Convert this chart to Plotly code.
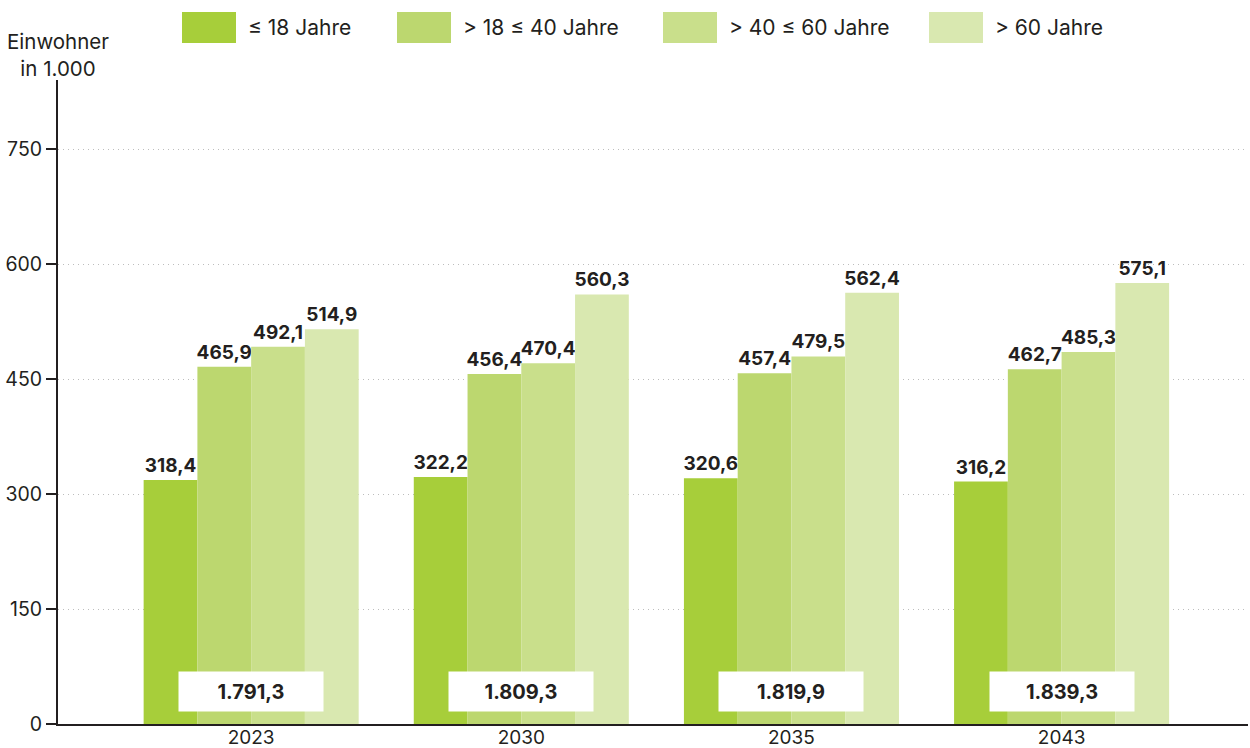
import plotly.graph_objects as go

years = ["2023", "2030", "2035", "2043"]
series_names = ["≤ 18 Jahre", "> 18 ≤ 40 Jahre", "> 40 ≤ 60 Jahre", "> 60 Jahre"]
values_u18 = [318.4, 322.2, 320.6, 316.2]
values_18_40 = [465.9, 456.4, 457.4, 462.7]
values_40_60 = [492.1, 470.4, 479.5, 485.3]
values_o60 = [514.9, 560.3, 562.4, 575.1]
totals = [1791.3, 1809.3, 1819.9, 1839.3]
y_ticks = [0, 150, 300, 450, 600, 750]

colors = ["#a7ce3a", "#bcd76f", "#c9df8b", "#d9e8b0"]
series_values = [values_u18, values_18_40, values_40_60, values_o60]
FONT = "Inter, DejaVu Sans, Arial, sans-serif"
DARK = "#231f20"

W, H = 1250, 748
ML, MR, MT, MB = 58, 2, 80, 24
PW, PH = W - ML - MR, H - MT - MB

def px_x(px):
    return (px - ML) / PW

def px_y(py):
    return (H - MB - py) / PH

def de_num(v):
    return f"{v:,.1f}".replace(",", "X").replace(".", ",").replace("X", ".")

fig = go.Figure()
for name, vals, col in zip(series_names, series_values, colors):
    fig.add_trace(go.Bar(
        x=years, y=vals, name=name, marker_color=col, marker_line_width=0,
        texttemplate="<b>%{y:.1f}</b>", textposition="outside",
        textfont=dict(family=FONT, size=19, color=DARK),
        constraintext="none", cliponaxis=False, showlegend=False,
    ))

annotations = []
for i, tot in enumerate(totals):
    annotations.append(dict(
        x=i, y=42, xref="x", yref="y", text=f"<b>{de_num(tot)}</b>", showarrow=False,
        bgcolor="white", width=144, height=39, borderpad=0,
        font=dict(family=FONT, size=20, color=DARK), xanchor="center", yanchor="middle",
    ))

# legend (manual)
swatch_x = [182, 397, 663, 929]
shapes = []
for sx, name, col in zip(swatch_x, series_names, colors):
    shapes.append(dict(type="rect", xref="paper", yref="paper",
                       x0=px_x(sx), x1=px_x(sx + 54), y0=px_y(43), y1=px_y(12),
                       fillcolor=col, line_width=0))
    annotations.append(dict(x=px_x(sx + 64), y=px_y(27.5), xref="paper", yref="paper",
                            text=name, showarrow=False, xanchor="left", yanchor="middle",
                            font=dict(family=FONT, size=21, color=DARK)))

annotations.append(dict(x=0, y=px_y(55), xref="paper", yref="paper",
                        text="Einwohner<br>in 1.000", showarrow=False,
                        xanchor="center", yanchor="middle", align="center",
                        font=dict(family=FONT, size=20.5, color=DARK)))

fig.update_layout(
    width=W, height=H, margin=dict(l=ML, r=MR, t=MT, b=MB, autoexpand=False),
    barmode="group", bargap=0.204, bargroupgap=0,
    plot_bgcolor="white", paper_bgcolor="white",
    separators=",.",
    font=dict(family=FONT, size=19, color=DARK),
    annotations=annotations, shapes=shapes,
    xaxis=dict(type="category", range=[-0.715, 3.69], showline=True, linecolor=DARK, linewidth=2,
               ticks="", showgrid=False, ticklabelstandoff=-5,
               tickfont=dict(family=FONT, size=19, color=DARK)),
    yaxis=dict(range=[0, 840], tickvals=y_ticks, showline=True, linecolor=DARK, linewidth=2,
               ticks="outside", ticklen=10, tickwidth=2, tickcolor=DARK,
               showgrid=True, gridcolor="#bdbdbd", griddash="1px,4px", gridwidth=1,
               zeroline=False, tickfont=dict(family=FONT, size=19.5, color=DARK)),
)

fig.write_html("out.html", config={"displayModeBar": False},
               post_script="document.body.style.margin='0';document.body.style.overflow='hidden';")
